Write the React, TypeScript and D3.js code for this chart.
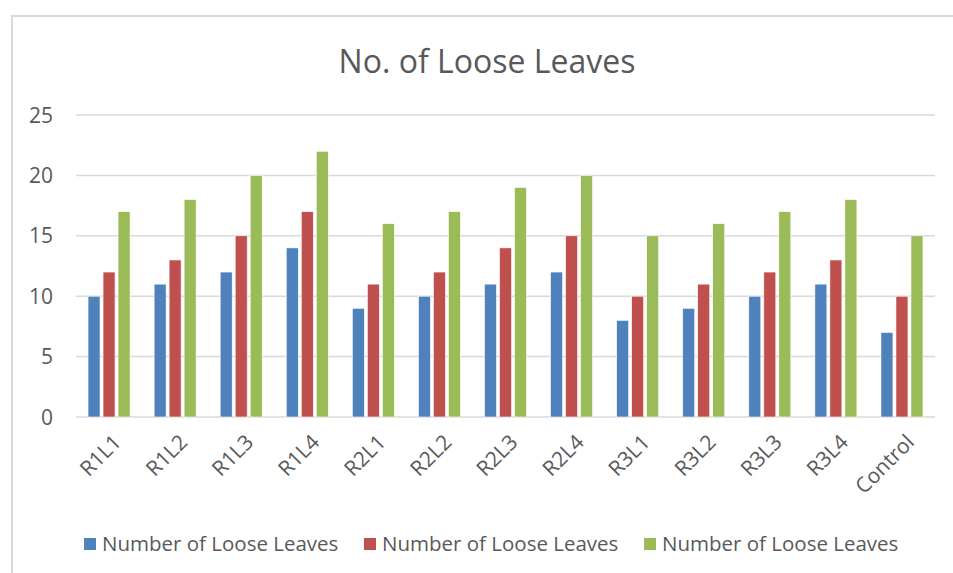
import React from "react";
import * as d3 from "d3";

// Categories along the x axis
const categories = [
  "R1L1", "R1L2", "R1L3", "R1L4",
  "R2L1", "R2L2", "R2L3", "R2L4",
  "R3L1", "R3L2", "R3L3", "R3L4",
  "Control",
];

// Three series, all named the same in the legend
const seriesNames = ["Number of Loose Leaves", "Number of Loose Leaves", "Number of Loose Leaves"];
const seriesA = [10, 11, 12, 14, 9, 10, 11, 12, 8, 9, 10, 11, 7];
const seriesB = [12, 13, 15, 17, 11, 12, 14, 15, 10, 11, 12, 13, 10];
const seriesC = [17, 18, 20, 22, 16, 17, 19, 20, 15, 16, 17, 18, 15];
const seriesColors = ["#4F81BD", "#C0504D", "#9BBB59"];

const yTicks = [0, 5, 10, 15, 20, 25];
const title = "No. of Loose Leaves";

const W = 953;
const H = 573;
const FONT = "'Open Sans', sans-serif";
const TEXT = "#595959";
const GRID = "#D9D9D9";

export default function App() {
  const series = [seriesA, seriesB, seriesC];
  const plot = { left: 76, right: 935, top: 115, bottom: 417 };

  const x0 = d3.scaleBand<string>().domain(categories).range([plot.left, plot.right]).padding(0);
  const groupW = 42;
  const x1 = d3
    .scaleBand<number>()
    .domain([0, 1, 2])
    .range([0, groupW])
    .paddingInner(0.2);
  const y = d3.scaleLinear().domain([0, 25]).range([plot.bottom, plot.top]);

  const groupOffset = (x0.bandwidth() - groupW) / 2;

  const legendX = d3.scaleLinear().domain([0, 1]).range([84, 364]);

  return (
    <svg
      width={W}
      height={H}
      style={{ position: "absolute", left: 0, top: 0, background: "#fff" }}
      fontFamily={FONT}
    >
      <rect x={0} y={0} width={W} height={H} fill="#fff" />
      {/* chart frame */}
      <rect x={12} y={16} width={1000} height={700} fill="none" stroke={GRID} strokeWidth={2} />

      <text x={487} y={73} textAnchor="middle" fontSize={32} fill={TEXT}>
        {title}
      </text>

      {/* gridlines and y tick labels */}
      {yTicks.map((t) => (
        <g key={t}>
          <line
            x1={plot.left}
            x2={plot.right}
            y1={y(t)}
            y2={y(t)}
            stroke={GRID}
            strokeWidth={1.5}
          />
          <text x={53} y={y(t)} dy="0.36em" textAnchor="end" fontSize={21} fill={TEXT}>
            {t}
          </text>
        </g>
      ))}

      {/* bars */}
      {categories.map((c, i) => (
        <g key={c} transform={`translate(${(x0(c) as number) + groupOffset},0)`}>
          {series.map((s, k) => (
            <rect
              key={k}
              x={x1(k)}
              y={y(s[i])}
              width={x1.bandwidth()}
              height={y(0) - y(s[i])}
              fill={seriesColors[k]}
              stroke="#fff"
              strokeWidth={0.6}
            />
          ))}
        </g>
      ))}

      {/* x tick labels */}
      {categories.map((c) => {
        const cx = (x0(c) as number) + x0.bandwidth() / 2;
        return (
          <text
            key={c}
            transform={`translate(${cx + 3},433) rotate(-45)`}
            dy="0.71em"
            textAnchor="end"
            fontSize={21}
            fill={TEXT}
          >
            {c}
          </text>
        );
      })}

      {/* legend */}
      {seriesNames.map((name, k) => (
        <g key={k} transform={`translate(${legendX(k)},0)`}>
          <rect x={0} y={538} width={12} height={12} fill={seriesColors[k]} />
          <text x={18} y={551} fontSize={20.5} fill={TEXT}>
            {name}
          </text>
        </g>
      ))}
    </svg>
  );
}
